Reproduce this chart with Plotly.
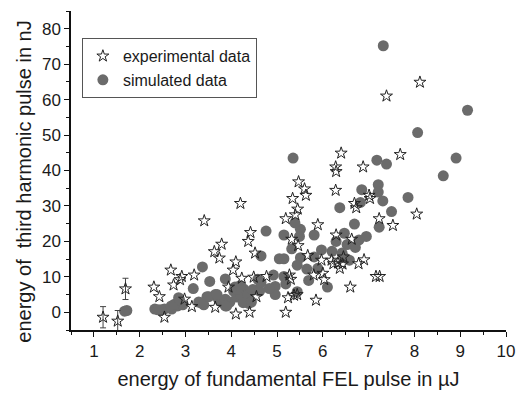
import plotly.graph_objects as go

# experimental data (stars)
exp_x = [2.31, 2.43, 2.54, 2.68, 2.74, 2.88, 2.92, 2.98, 3.14, 3.19, 3.41, 3.63, 3.65, 3.74, 3.79,
         3.94, 4.04, 4.10, 4.10, 4.20, 4.23, 4.37, 4.42, 4.40, 4.49, 4.52, 4.55, 4.77, 5.19, 5.19,
         5.24, 5.27, 5.30, 5.32, 5.34, 5.37, 5.40, 5.45, 5.47, 5.46, 5.60, 5.63, 5.67, 5.80, 5.85,
         5.89, 5.97, 6.00, 6.03, 6.19, 6.28, 6.29, 6.28, 6.29, 6.33, 6.37, 6.40, 6.43, 6.45, 6.60,
         6.63, 6.69, 6.73, 6.78, 6.88, 6.90, 7.01, 7.03, 7.16, 7.24, 7.23, 7.39, 7.53, 7.69, 8.05,
         8.12, 6.23, 5.44]
exp_y = [7.1, 4.4, -1.4, 11.9, 7.7, 9.2, 10.1, 3.7, 1.6, 10.5, 25.8, 17.1, 1.4, 15.3, 19.2,
         7.1, 11.9, 14.2, -0.5, 30.7, 9.6, 20.0, 22.5, 0.0, 9.9, 16.7, 4.4, 10.1, 0.0, 26.4,
         4.1, 10.5, 9.3, 20.6, 32.1, 4.8, 27.5, 29.1, 36.8, 18.8, 34.8, 33.0, 16.0, 10.5, 3.4,
         24.7, 14.7, 11.0, 9.2, 14.7, 41.0, 39.7, 34.4, 21.8, 13.9, 12.4, 44.9, 13.6, 15.6, 7.1,
         20.6, 30.7, 29.5, 13.7, 41.0, 14.8, 33.0, 32.1, 10.1, 10.1, 26.4, 61.0, 24.5, 44.5, 27.7,
         64.9, 13.7, 5.0]

# experimental points with error bars
err_x = [1.20, 1.52, 1.69]
err_y = [-1.4, -2.5, 6.6]
err_e = [3.0, 3.0, 3.0]

# simulated data (circles)
sim_x = [7.32, 9.16, 8.07, 8.91, 8.63, 7.86, 7.18, 7.39, 5.35, 7.21, 7.21, 6.85, 6.82, 6.37, 7.31,
         7.50, 6.69, 7.23, 6.95, 6.79, 6.47, 6.53, 6.71, 6.29, 6.20, 6.42, 6.47, 6.58, 5.97, 5.81,
         5.81, 5.51, 5.49, 5.39, 5.32, 5.51, 5.15, 4.76, 4.65, 5.05, 5.15, 5.44, 5.65, 5.89, 5.69,
         6.10, 5.44, 5.15, 5.19, 4.92, 4.96, 4.96, 4.83, 4.58, 4.58, 4.38, 4.27, 4.08, 4.05, 3.87,
         3.53, 3.37, 3.17, 3.65, 3.47, 3.29, 3.79, 3.97, 4.12, 4.22, 3.72, 2.85, 2.83, 2.94, 2.69,
         2.70, 2.54, 2.47, 2.33, 1.72, 1.67, 3.40, 3.90, 2.40, 2.76, 2.87, 3.33, 3.51, 3.69, 3.87,
         4.12, 4.19, 4.26, 4.37, 4.44, 4.47, 4.62, 4.65, 3.87]
sim_y = [75.2, 57.0, 50.7, 43.5, 38.5, 32.4, 42.9, 41.8, 43.5, 36.0, 33.9, 34.6, 31.0, 29.5, 31.4,
         28.4, 24.9, 24.0, 21.4, 20.4, 22.3, 19.1, 18.3, 20.0, 17.2, 16.7, 15.4, 14.7, 17.6, 15.6,
         21.8, 23.4, 21.4, 25.2, 17.9, 15.4, 21.8, 22.9, 15.9, 15.1, 15.1, 13.3, 12.2, 12.4, 9.0,
         7.1, 5.8, 10.1, 8.0, 10.5, 7.3, 5.0, 6.7, 9.3, 6.4, 2.5, 6.6, 7.1, 6.0, 9.4,
         8.7, 12.8, 6.7, 5.0, 4.4, 2.9, 2.9, 2.9, 4.3, 4.6, 3.7, 4.1, 1.8, 2.1, 1.8,
         0.9, 0.9, 0.7, 0.9, 0.5, 0.3, 2.1, 1.8, 0.7, 2.3, 3.5, 2.7, 4.4, 5.0, 3.7,
         6.4, 7.5, 2.7, 5.0, 2.9, 6.4, 6.0, 8.4, 1.8]

x_ticks = [1, 2, 3, 4, 5, 6, 7, 8, 9, 10]
y_ticks = [0, 10, 20, 30, 40, 50, 60, 70, 80]

FONT = "Liberation Sans, Arial, sans-serif"
TXT = "#1a1a1a"

fig = go.Figure()
fig.add_trace(go.Scatter(
    x=sim_x, y=sim_y, mode="markers", name="simulated data",
    marker=dict(symbol="circle", size=11, color="#6b6b6b", line=dict(width=0)),
))
fig.add_trace(go.Scatter(
    x=exp_x, y=exp_y, mode="markers", name="experimental data",
    marker=dict(symbol="star-open", size=9, color="#222222", line=dict(width=1)),
))
fig.add_trace(go.Scatter(
    x=err_x, y=err_y, mode="markers", name="experimental data", showlegend=False,
    marker=dict(symbol="star-open", size=9, color="#222222", line=dict(width=1)),
    error_y=dict(type="data", array=err_e, visible=True, color="#444444", thickness=1, width=3),
))

fig.update_layout(
    width=526, height=398,
    margin=dict(l=71, r=12, t=11, b=59),
    paper_bgcolor="white", plot_bgcolor="white",
    font=dict(family=FONT, color=TXT, size=17),
    showlegend=True,
    legend=dict(
        x=0.025, y=0.915, xanchor="left", yanchor="top",
        bordercolor="#555555", borderwidth=1, bgcolor="white",
        font=dict(size=16, family=FONT, color=TXT),
        traceorder="reversed", tracegroupgap=0,
    ),
    xaxis=dict(
        range=[0.5, 10], tickvals=x_ticks, ticktext=[str(v) for v in x_ticks],
        showgrid=False, zeroline=False, showline=True, linecolor="#111111", linewidth=1.5,
        ticks="outside", ticklen=5, tickwidth=1.2, tickcolor="#111111",
        tickfont=dict(size=17, family=FONT, color=TXT),
        minor=dict(dtick=0.5, tick0=0.5, ticks="outside", ticklen=3, tickcolor="#111111"),
        title=dict(text="energy of fundamental FEL pulse in µJ",
                   font=dict(size=20, family=FONT, color=TXT), standoff=12),
    ),
    yaxis=dict(
        range=[-5, 85], tickvals=y_ticks, ticktext=[str(v) for v in y_ticks],
        showgrid=False, zeroline=False, showline=True, linecolor="#111111", linewidth=1.5,
        ticks="outside", ticklen=5, tickwidth=1.2, tickcolor="#111111",
        tickfont=dict(size=17, family=FONT, color=TXT),
        minor=dict(dtick=5, tick0=0, ticks="outside", ticklen=3, tickcolor="#111111"),
    ),
    annotations=[dict(
        text="energy of  third harmonic pulse in nJ", textangle=-90,
        xref="paper", yref="paper", x=-0.108, y=0.465, xanchor="center", yanchor="middle",
        showarrow=False, font=dict(size=20, family=FONT, color=TXT),
    )],
)

fig.write_html("out.html")
